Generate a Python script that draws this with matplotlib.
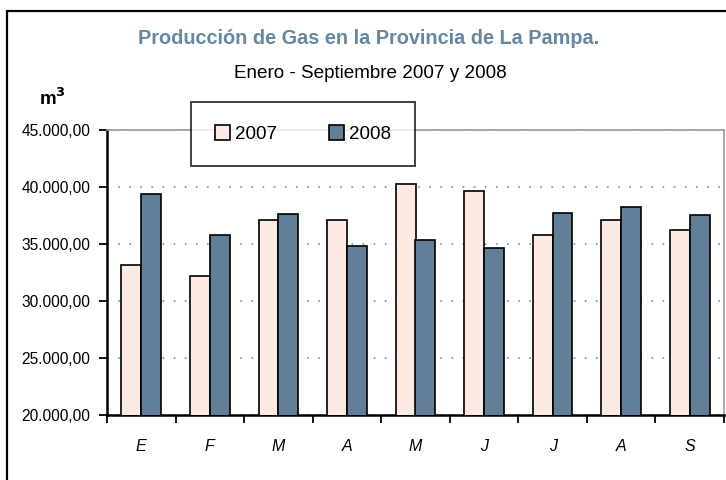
import matplotlib
matplotlib.use("Agg")
import matplotlib.pyplot as plt
from matplotlib.patches import Rectangle
import numpy as np

plt.rcParams['font.family'] = ['Liberation Sans', 'DejaVu Sans']
plt.rcParams['lines.scale_dashes'] = False

months = ['E', 'F', 'M', 'A', 'M', 'J', 'J', 'A', 'S']
v2007 = [33140, 32230, 37140, 37140, 40290, 39620, 35770, 37140, 36260]
v2008 = [39420, 35770, 37660, 34860, 35390, 34690, 37690, 38220, 37550]
yticks = [20000, 25000, 30000, 35000, 40000, 45000]
ytick_labels = ['20.000,00', '25.000,00', '30.000,00', '35.000,00', '40.000,00', '45.000,00']

W, H = 726, 480
fig = plt.figure(figsize=(W / 100, H / 100), dpi=100)
ax = fig.add_axes([107 / W, 1 - 415 / H, (724 - 107) / W, (415 - 130) / H])

x = np.arange(len(months))
bw = 0.29
c07 = '#fdeae3'
c08 = '#617f98'
ax.bar(x - bw / 2, v2007, bw, color=c07, edgecolor='black', linewidth=1.2, label='2007', zorder=3)
ax.bar(x + bw / 2, v2008, bw, color=c08, edgecolor='black', linewidth=1.2, label='2008', zorder=3)

ax.set_xlim(-0.5, len(months) - 0.5)
ax.set_ylim(20000, 45000)
ax.set_yticks(yticks)
ax.set_yticklabels(ytick_labels, fontsize=11.2)
ax.set_xticks(np.arange(len(months) + 1) - 0.5)
ax.set_xticklabels([])
ax.set_xticks(x, minor=True)
ax.set_xticklabels(months, minor=True, fontsize=11.5, style='italic')
ax.tick_params(axis='x', which='minor', length=0, pad=17)
ax.tick_params(axis='x', which='major', length=6, width=1.3, direction='out', color='black')
ax.tick_params(axis='y', which='major', length=6, width=1.3, direction='out', color='black', pad=6)

ax.yaxis.grid(True, linestyle=(0, (1.2, 6.8)), color='#7f9ab3', linewidth=1.3, zorder=0)
ax.set_axisbelow(True)

for s in ['left', 'bottom']:
    ax.spines[s].set_color('black')
    ax.spines[s].set_linewidth(1.8)
for s in ['top', 'right']:
    ax.spines[s].set_color('#9a9a9a')
    ax.spines[s].set_linewidth(1.2)

leg = fig.legend(loc='center', bbox_to_anchor=(303 / W, 1 - 134 / H), ncol=2,
                 fontsize=13.5, frameon=True, fancybox=False, edgecolor='black',
                 borderpad=1.25, handlelength=0.8, handleheight=0.8,
                 handletextpad=0.3, columnspacing=2.75, borderaxespad=0)
leg.get_frame().set_linewidth(1.3)
leg.set_zorder(10)
for h in leg.legend_handles:
    h.set_linewidth(1.2)

fig.text(369 / W, 1 - 39 / H, 'Producción de Gas en la Provincia de La Pampa.',
         ha='center', va='center', fontsize=14.3, fontweight='bold', color='#6786a0')
fig.text(370 / W, 1 - 73 / H, 'Enero - Septiembre 2007 y 2008',
         ha='center', va='center', fontsize=13.6, color='black')
fig.text(52 / W, 1 - 98 / H, r'm$^\mathbf{3}$', ha='center', va='center',
         fontsize=13.5, fontweight='bold', color='black')

border = Rectangle((7 / W, -0.1), 1.2, 1 - 11 / H + 0.1, transform=fig.transFigure,
                   fill=False, edgecolor='black', linewidth=1.6, clip_on=False)
fig.patches.append(border)

fig.savefig('out.png', dpi=100)
